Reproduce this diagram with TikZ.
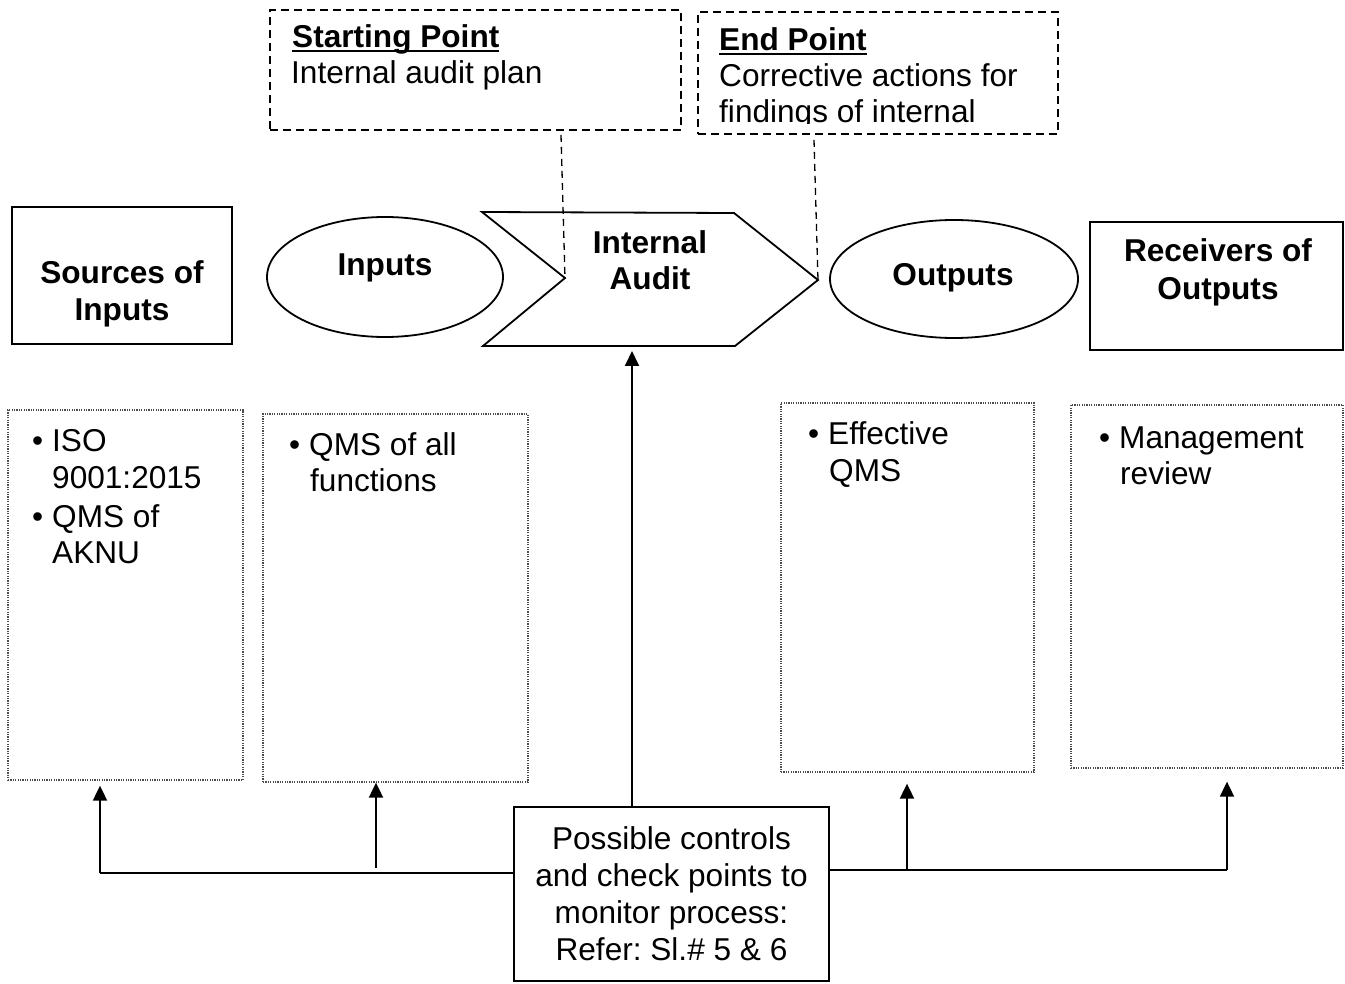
\documentclass[tikz,border=0pt]{standalone}
\usepackage{fontspec}
\setmainfont{Liberation Sans}
\usetikzlibrary{shapes.geometric,arrows.meta}
\frenchspacing
% bold heading with a rule just under the baseline
\newcommand\ulbold[1]{\setbox0\hbox{\bfseries #1}\rlap{\rule[-4pt]{\wd0}{2.2pt}}\box0}
% bullet with a fixed hanging indent
\newcommand\bl{\makebox[20pt][l]{\textbullet}}

\begin{document}
\begin{tikzpicture}[x=1pt,y=-1pt,
  txt/.style={inner sep=0pt, font=\fontsize{31.6}{37}\selectfont},
  btxt/.style={inner sep=0pt, font=\fontsize{31.6}{37}\selectfont\bfseries},
  solidbox/.style={draw, line width=1.8pt, rectangle, inner sep=0pt},
  dashbox/.style={draw, line width=1.8pt, dash pattern=on 8pt off 5pt, inner sep=0pt},
  dotbox/.style={draw=black!70, line width=1.3pt, dash pattern=on 1.2pt off 1.2pt, inner sep=0pt},
  oval/.style={draw, ellipse, line width=1.8pt, inner sep=0pt},
  link/.style={line width=1.9pt},
  arr/.style={link, -{Triangle[length=15pt,width=14pt]}},
  guide/.style={line width=1.3pt, dash pattern=on 7pt off 5pt},
]
\useasboundingbox (0,0) rectangle (1345,984);

% ---- starting / end point notes
\node[dashbox, minimum width=411pt, minimum height=120pt] (start) at (475.5,70) {};
\node[txt, anchor=base west] (startT) at (292,48) {\ulbold{Starting Point}};
\node[txt, anchor=base west] (startB) at (291,84) {Internal audit plan};

\node[dashbox, minimum width=360pt, minimum height=122pt] (end) at (878,73) {};
\node[txt, anchor=base west] (endT) at (719,51) {\ulbold{End Point}};
\node[txt, anchor=base west] (endB1) at (719,87) {Corrective actions for};
\begin{scope}
  \clip (700,95) rectangle (1056,124);
  \node[txt, anchor=base west] (endB2) at (719,122.5) {findings of internal};
\end{scope}

% ---- process chain
\node[solidbox, minimum width=220pt, minimum height=137pt] (src) at (122,275.5) {};
\node[btxt, anchor=base] (srcT1) at (122,284) {Sources of};
\node[btxt, anchor=base] (srcT2) at (122,321) {Inputs};

\node[oval, minimum width=236pt, minimum height=120pt] (inputs) at (385,277) {};
\node[btxt, anchor=base] (inputsT) at (385,275.5) {Inputs};

\coordinate (notch) at (565,278);
\coordinate (tip) at (818,280);
\coordinate (audB) at (632,346);
\draw[link, line width=1.8pt] (482,212) -- (734,213) -- (tip) -- (735,346) -- (483,346) -- (notch) -- cycle;
\node[btxt, anchor=base] (audT1) at (650,254) {Internal};
\node[btxt, anchor=base] (audT2) at (650,290) {Audit};

\node[oval, minimum width=248pt, minimum height=118pt] (outputs) at (954,279) {};
\node[btxt, anchor=base] (outputsT) at (953,286) {Outputs};

\node[solidbox, minimum width=253pt, minimum height=128pt] (recv) at (1216.5,286) {};
\node[btxt, anchor=base] (recvT1) at (1218,262) {Receivers of};
\node[btxt, anchor=base] (recvT2) at (1218,300) {Outputs};

% ---- dashed guides from the notes
\draw[guide] ([xshift=85.5pt,yshift=-4pt]start.south) -- (notch);
\draw[guide] ([xshift=-64pt,yshift=-5pt]end.south) -- (tip);

% ---- detail boxes
\node[dotbox, minimum width=235pt, minimum height=370pt] (box1) at (125.5,595) {};
\node[txt, anchor=base west] (b1a) at (32,451) {\bl ISO};
\node[txt, anchor=base west] (b1b) at (52,488) {9001:2015};
\node[txt, anchor=base west] (b1c) at (32,527) {\bl QMS of};
\node[txt, anchor=base west] (b1d) at (52,563) {AKNU};

\node[dotbox, minimum width=265pt, minimum height=368pt] (box2) at (395.5,598) {};
\node[txt, anchor=base west] (b2a) at (289,455) {\bl QMS of all};
\node[txt, anchor=base west] (b2b) at (310,491) {functions};

\node[dotbox, minimum width=253pt, minimum height=369pt] (box3) at (907.5,587.5) {};
\node[txt, anchor=base west] (b3a) at (808,445) {\bl Effective};
\node[txt, anchor=base west] (b3b) at (829,481) {QMS};

\node[dotbox, minimum width=272pt, minimum height=363pt] (box4) at (1207,586.5) {};
\node[txt, anchor=base west] (b4a) at (1099,448) {\bl Management};
\node[txt, anchor=base west] (b4b) at (1120,484) {review};

% ---- controls box and its connectors
\node[solidbox, minimum width=315pt, minimum height=174pt, txt, align=center] (ctrl) at (671.5,894)
  {Possible controls\\and check points to\\monitor process:\\Refer: Sl.\# 5 \& 6};

\coordinate (yl) at (0,873);
\coordinate (yr) at (0,870);
\coordinate (j1) at (100,873);
\coordinate (j2) at (376,868);
\coordinate (j3) at (907,870);
\coordinate (j4) at (1227,870);

\draw[link] (ctrl.west |- yl) -- (j1);
\draw[arr] (j1) -- ([yshift=-5pt]j1 |- box1.south);
\draw[arr] (j2) -- (j2 |- box2.south);
\draw[link] (ctrl.east |- yr) -- (j4);
\draw[arr] (j3) -- ([yshift=-11pt]j3 |- box3.south);
\draw[arr] (j4) -- ([yshift=-13pt]j4 |- box4.south);
\draw[arr] (ctrl.north -| audB) -- ([yshift=-5pt]audB);
\end{tikzpicture}
\end{document}
